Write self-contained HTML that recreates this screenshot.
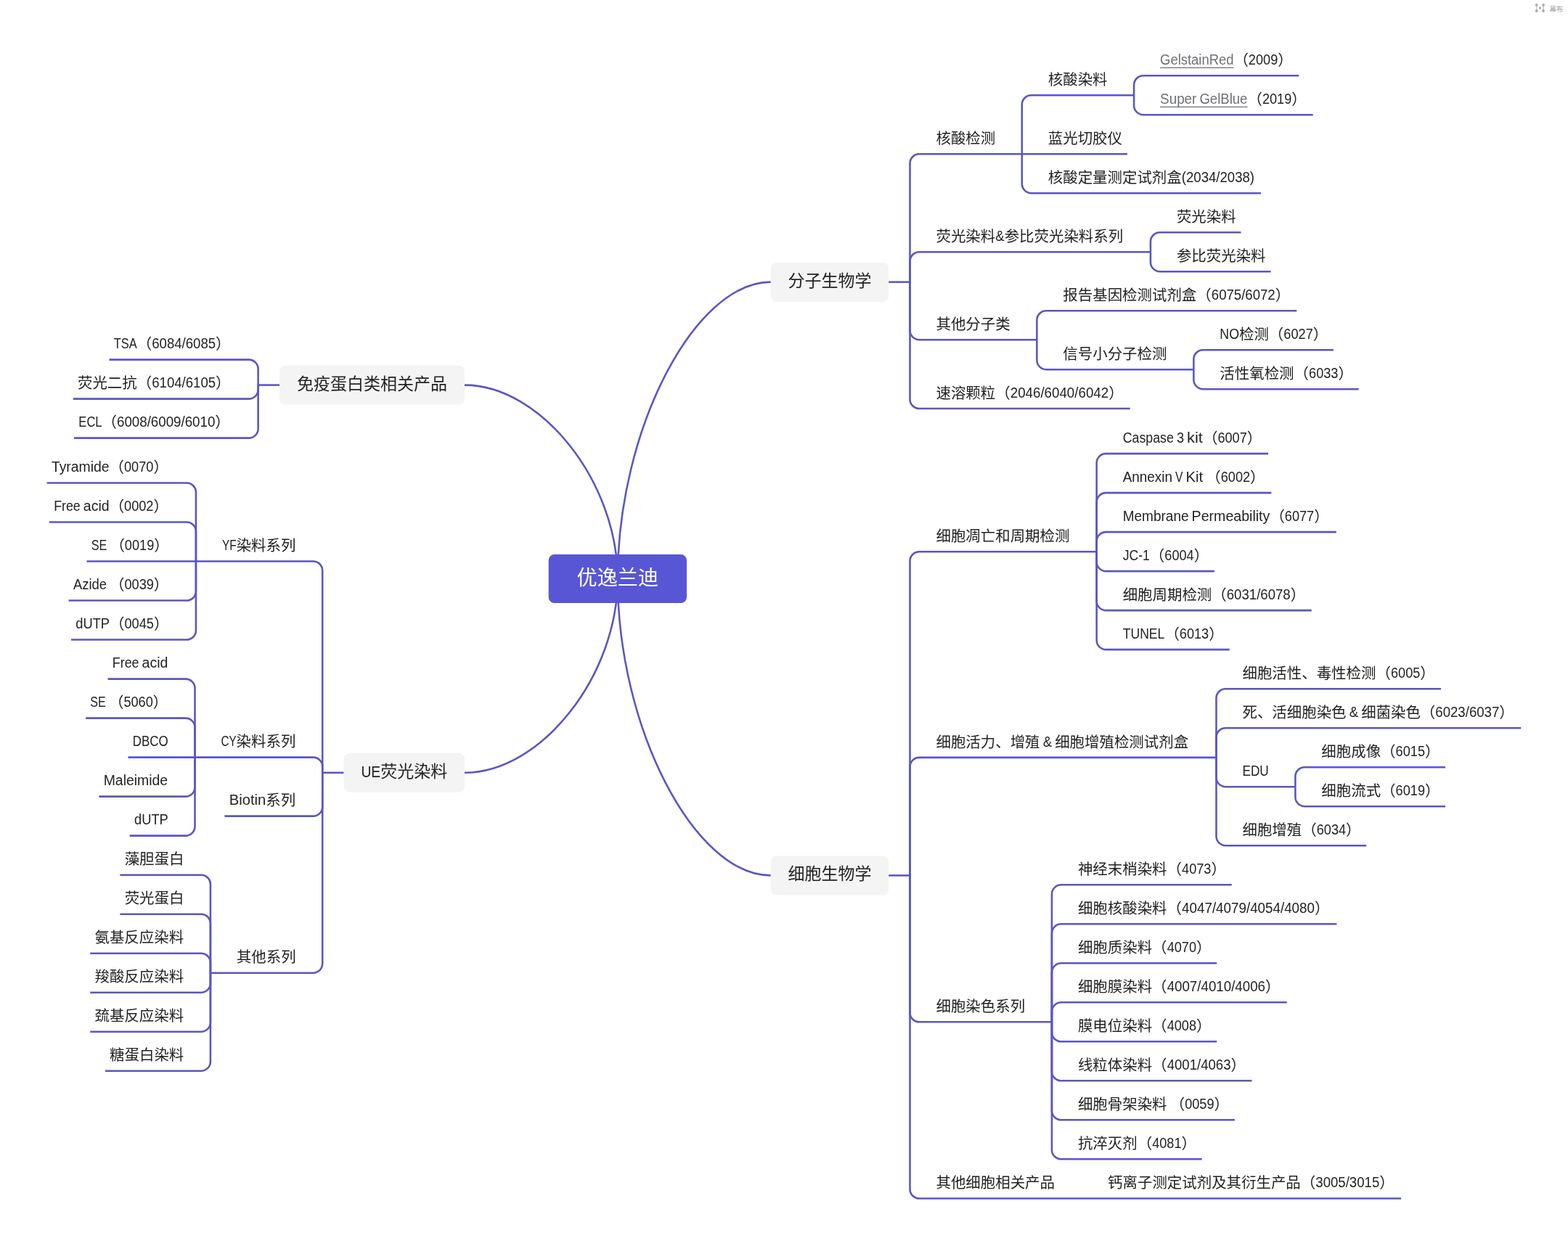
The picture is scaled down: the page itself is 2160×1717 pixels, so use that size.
<!DOCTYPE html>
<html lang="zh-CN">
<head>
<meta charset="utf-8">
<title>优逸兰迪</title>
<style>
html,body{margin:0;padding:0;background:#fff}
body{width:2160px;height:1717px;overflow:hidden}
svg{display:block;will-change:transform;font-family:"Liberation Sans","Noto Sans CJK SC",sans-serif}
text{white-space:pre}
.t{font-size:20.45px;fill:#222222}
.t1{font-size:23px;fill:#222222}
.t0{font-size:28.12px;fill:#fff}
.lk{fill:#6e7074}
.lu{stroke:#6e7074;stroke-width:1.3;fill:none}
.ln path{fill:none;stroke:#5957c2;stroke-width:2.57}
.b0{fill:#5856d5}
.b1{fill:#f4f4f5}
.wm{font-size:9.3px;fill:#999}
.wd{fill:#ababab}
.wn{fill:#d2d2d2}
</style>
</head>
<body>
<svg width="2160" height="1717" viewBox="0 0 2160 1717">
<g class="ln">
<path d="M850.85 797.6C850.85 931.2 745.42 1064.8 640 1064.8"/>
<path d="M850.85 797.6C850.85 664.1 745.38 530.6 639.9 530.6"/>
<path d="M850.85 797.6C850.85 1002 956.33 1206.4 1061.8 1206.4"/>
<path d="M850.85 797.6C850.85 593.12 956.33 388.65 1061.8 388.65"/>
<path d="M1224.11 388.65H1253.51"/>
<path d="M1253.51 388.65V225.06A12.86 12.86 0 0 1 1266.37 212.2H1407.8"/>
<path d="M1407.8 212.2V144.06A12.86 12.86 0 0 1 1420.66 131.2H1562.09"/>
<path d="M1562.09 131.2V117.06A12.86 12.86 0 0 1 1574.94 104.2H1789.39"/>
<path d="M1562.09 131.2V145.34A12.86 12.86 0 0 0 1574.94 158.2H1808.7"/>
<path d="M1407.8 212.2H1552.96"/>
<path d="M1407.8 212.2V253.34A12.86 12.86 0 0 0 1420.66 266.2H1736.94"/>
<path d="M1253.51 388.65V360.06A12.86 12.86 0 0 1 1266.37 347.2H1584.93"/>
<path d="M1584.93 347.2V333.06A12.86 12.86 0 0 1 1597.78 320.2H1709.51"/>
<path d="M1584.93 347.2V361.34A12.86 12.86 0 0 0 1597.78 374.2H1750.65"/>
<path d="M1253.51 388.65V455.34A12.86 12.86 0 0 0 1266.37 468.2H1428.37"/>
<path d="M1428.37 468.2V441.06A12.86 12.86 0 0 1 1441.23 428.2H1786.17"/>
<path d="M1428.37 468.2V496.34A12.86 12.86 0 0 0 1441.23 509.2H1644.37"/>
<path d="M1644.37 509.2V495.06A12.86 12.86 0 0 1 1657.23 482.2H1836.99"/>
<path d="M1644.37 509.2V523.34A12.86 12.86 0 0 0 1657.23 536.2H1871.66"/>
<path d="M1253.51 388.65V550.14A12.86 12.86 0 0 0 1266.37 563H1556.68"/>
<path d="M1224.11 1206.4H1253.51"/>
<path d="M1253.51 1206.4V773.06A12.86 12.86 0 0 1 1266.37 760.2H1510.66"/>
<path d="M1510.66 760.2V637.96A12.86 12.86 0 0 1 1523.51 625.1H1747.06"/>
<path d="M1510.66 760.2V691.96A12.86 12.86 0 0 1 1523.51 679.1H1751.44"/>
<path d="M1510.66 760.2V745.96A12.86 12.86 0 0 1 1523.51 733.1H1840.89"/>
<path d="M1510.66 760.2V774.24A12.86 12.86 0 0 0 1523.51 787.1H1672.86"/>
<path d="M1510.66 760.2V828.24A12.86 12.86 0 0 0 1523.51 841.1H1806.74"/>
<path d="M1510.66 760.2V882.24A12.86 12.86 0 0 0 1523.51 895.1H1693.71"/>
<path d="M1253.51 1206.4V1056.76A12.86 12.86 0 0 1 1266.37 1043.9H1675.48"/>
<path d="M1675.48 1043.9V962.06A12.86 12.86 0 0 1 1688.34 949.2H1985.06"/>
<path d="M1675.48 1043.9V1016.06A12.86 12.86 0 0 1 1688.34 1003.2H2095.25"/>
<path d="M1675.48 1043.9V1071.34A12.86 12.86 0 0 0 1688.34 1084.2H1784.37"/>
<path d="M1784.37 1084.2V1070.06A12.86 12.86 0 0 1 1797.23 1057.2H1991.09"/>
<path d="M1784.37 1084.2V1098.34A12.86 12.86 0 0 0 1797.23 1111.2H1991.09"/>
<path d="M1675.48 1043.9V1152.34A12.86 12.86 0 0 0 1688.34 1165.2H1882.2"/>
<path d="M1253.51 1206.4V1395.44A12.86 12.86 0 0 0 1266.37 1408.3H1448.94"/>
<path d="M1448.94 1408.3V1232.16A12.86 12.86 0 0 1 1461.8 1219.3H1696.8"/>
<path d="M1448.94 1408.3V1286.16A12.86 12.86 0 0 1 1461.8 1273.3H1841.48"/>
<path d="M1448.94 1408.3V1340.16A12.86 12.86 0 0 1 1461.8 1327.3H1676.23"/>
<path d="M1448.94 1408.3V1394.16A12.86 12.86 0 0 1 1461.8 1381.3H1772.68"/>
<path d="M1448.94 1408.3V1422.44A12.86 12.86 0 0 0 1461.8 1435.3H1676.23"/>
<path d="M1448.94 1408.3V1476.44A12.86 12.86 0 0 0 1461.8 1489.3H1724.45"/>
<path d="M1448.94 1408.3V1530.44A12.86 12.86 0 0 0 1461.8 1543.3H1700.94"/>
<path d="M1448.94 1408.3V1584.44A12.86 12.86 0 0 0 1461.8 1597.3H1655.66"/>
<path d="M1253.51 1206.4V1638.64A12.86 12.86 0 0 0 1266.37 1651.5H1490.09"/>
<path d="M1490.09 1651.5H1930.17"/>
<path d="M385.01 530.6H355.61"/>
<path d="M355.61 530.6V508.46A12.86 12.86 0 0 0 342.76 495.6H150.48"/>
<path d="M355.61 530.6V536.74A12.86 12.86 0 0 1 342.76 549.6H100.67"/>
<path d="M355.61 530.6V590.74A12.86 12.86 0 0 1 342.76 603.6H102.06"/>
<path d="M473.62 1064.8H444.22"/>
<path d="M444.22 1064.8V786.36A12.86 12.86 0 0 0 431.36 773.5H269.94"/>
<path d="M269.94 773.5V678.36A12.86 12.86 0 0 0 257.08 665.5H64.6"/>
<path d="M269.94 773.5V732.36A12.86 12.86 0 0 0 257.08 719.5H67.83"/>
<path d="M269.94 773.5H119.49"/>
<path d="M269.94 773.5V814.64A12.86 12.86 0 0 1 257.08 827.5H94.62"/>
<path d="M269.94 773.5V868.64A12.86 12.86 0 0 1 257.08 881.5H98"/>
<path d="M444.22 1064.8V1056.46A12.86 12.86 0 0 0 431.36 1043.6H268.5"/>
<path d="M268.5 1043.6V948.46A12.86 12.86 0 0 0 255.64 935.6H148.52"/>
<path d="M268.5 1043.6V1002.46A12.86 12.86 0 0 0 255.64 989.6H118.05"/>
<path d="M268.5 1043.6H176.48"/>
<path d="M268.5 1043.6V1084.74A12.86 12.86 0 0 1 255.64 1097.6H136.41"/>
<path d="M268.5 1043.6V1138.74A12.86 12.86 0 0 1 255.64 1151.6H178.69"/>
<path d="M444.22 1064.8V1111.74A12.86 12.86 0 0 1 431.36 1124.6H309.43"/>
<path d="M444.22 1064.8V1327.84A12.86 12.86 0 0 1 431.36 1340.7H289.93"/>
<path d="M289.93 1340.7V1218.56A12.86 12.86 0 0 0 277.08 1205.7H165.35"/>
<path d="M289.93 1340.7V1272.56A12.86 12.86 0 0 0 277.08 1259.7H165.35"/>
<path d="M289.93 1340.7V1326.56A12.86 12.86 0 0 0 277.08 1313.7H124.2"/>
<path d="M289.93 1340.7V1354.84A12.86 12.86 0 0 1 277.08 1367.7H124.2"/>
<path d="M289.93 1340.7V1408.84A12.86 12.86 0 0 1 277.08 1421.7H124.2"/>
<path d="M289.93 1340.7V1462.84A12.86 12.86 0 0 1 277.08 1475.7H144.78"/>
</g>
<rect class="b0" x="755.7" y="764.1" width="190.3" height="67" rx="8"/>
<rect class="b1" x="1061.8" y="361.65" width="162.31" height="54" rx="8"/>
<rect class="b1" x="1061.8" y="1179.4" width="162.31" height="54" rx="8"/>
<rect class="b1" x="385.01" y="503.6" width="254.89" height="54" rx="8"/>
<rect class="b1" x="473.62" y="1037.8" width="166.38" height="54" rx="8"/>
<path class="lu" d="M1598.09 93.45H1699.42"/>
<path class="lu" d="M1598.09 147.45H1718.44"/>
<text class="t1"><tspan x="1085.45" y="394.65">分子生物学</tspan></text>
<text class="t"><tspan x="1289.51" y="197.95">核酸检测</tspan></text>
<text class="t"><tspan x="1443.8" y="116.95">核酸染料</tspan></text>
<text class="t"><tspan class="lk" x="1598.09" y="88.8" font-size="19.94" textLength="101.33" lengthAdjust="spacingAndGlyphs">GelstainRed</tspan><tspan x="1699.42" y="89.95">（</tspan><tspan x="1719.87" y="88.8" font-size="19.94" textLength="40.37" lengthAdjust="spacingAndGlyphs">2009</tspan><tspan x="1760.24" y="89.95">）</tspan></text>
<text class="t"><tspan class="lk" x="1598.09" y="142.8" font-size="19.94" textLength="50.28" lengthAdjust="spacingAndGlyphs">Super</tspan><tspan x="1648.37" y="142.8" font-size="19.94"> </tspan><tspan class="lk" x="1652.44" y="142.8" font-size="19.94" textLength="66" lengthAdjust="spacingAndGlyphs">GelBlue</tspan><tspan x="1718.44" y="143.95">（</tspan><tspan x="1738.89" y="142.8" font-size="19.94" textLength="40.37" lengthAdjust="spacingAndGlyphs">2019</tspan><tspan x="1779.26" y="143.95">）</tspan></text>
<text class="t"><tspan x="1443.8" y="197.95">蓝光切胶仪</tspan></text>
<text class="t"><tspan x="1443.8" y="251.95">核酸定量测定试剂盒</tspan><tspan x="1627.83" y="250.8" font-size="19.94" textLength="100.17" lengthAdjust="spacingAndGlyphs">(2034/2038)</tspan></text>
<text class="t"><tspan x="1289.51" y="332.95">荧光染料</tspan><tspan x="1371.31" y="331.8" font-size="19.94" textLength="12.37" lengthAdjust="spacingAndGlyphs">&amp;</tspan><tspan x="1383.67" y="332.95">参比荧光染料系列</tspan></text>
<text class="t"><tspan x="1620.93" y="305.95">荧光染料</tspan></text>
<text class="t"><tspan x="1620.93" y="359.95">参比荧光染料</tspan></text>
<text class="t"><tspan x="1289.51" y="453.95">其他分子类</tspan></text>
<text class="t"><tspan x="1464.37" y="413.95">报告基因检测试剂盒（</tspan><tspan x="1668.85" y="412.8" font-size="19.94" textLength="87.87" lengthAdjust="spacingAndGlyphs">6075/6072</tspan><tspan x="1756.73" y="413.95">）</tspan></text>
<text class="t"><tspan x="1464.37" y="494.95">信号小分子检测</tspan></text>
<text class="t"><tspan x="1680.37" y="466.8" font-size="19.94" textLength="26.64" lengthAdjust="spacingAndGlyphs">NO</tspan><tspan x="1707.01" y="467.95">检测（</tspan><tspan x="1768.36" y="466.8" font-size="19.94" textLength="40.37" lengthAdjust="spacingAndGlyphs">6027</tspan><tspan x="1808.73" y="467.95">）</tspan></text>
<text class="t"><tspan x="1680.37" y="521.95">活性氧检测（</tspan><tspan x="1803.06" y="520.8" font-size="19.94" textLength="40.37" lengthAdjust="spacingAndGlyphs">6033</tspan><tspan x="1843.43" y="521.95">）</tspan></text>
<text class="t"><tspan x="1289.51" y="548.75">速溶颗粒（</tspan><tspan x="1391.75" y="547.6" font-size="19.94" textLength="135.38" lengthAdjust="spacingAndGlyphs">2046/6040/6042</tspan><tspan x="1527.13" y="548.75">）</tspan></text>
<text class="t1"><tspan x="1085.45" y="1212.4">细胞生物学</tspan></text>
<text class="t"><tspan x="1289.51" y="745.95">细胞凋亡和周期检测</tspan></text>
<text class="t"><tspan x="1546.66" y="609.7" font-size="19.94" textLength="70.16" lengthAdjust="spacingAndGlyphs">Caspase</tspan><tspan x="1616.82" y="609.7" font-size="19.94"> </tspan><tspan x="1620.89" y="609.7" font-size="19.94" textLength="10.09" lengthAdjust="spacingAndGlyphs">3</tspan><tspan x="1630.98" y="609.7" font-size="19.94"> </tspan><tspan x="1635.06" y="609.7" font-size="19.94" textLength="21.9" lengthAdjust="spacingAndGlyphs">kit</tspan><tspan x="1656.95" y="610.85">（</tspan><tspan x="1677.4" y="609.7" font-size="19.94" textLength="40.37" lengthAdjust="spacingAndGlyphs">6007</tspan><tspan x="1717.77" y="610.85">）</tspan></text>
<text class="t"><tspan x="1546.66" y="663.7" font-size="19.94" textLength="68.32" lengthAdjust="spacingAndGlyphs">Annexin</tspan><tspan x="1614.98" y="663.7" font-size="19.94"> </tspan><tspan x="1619.05" y="663.7" font-size="19.94" textLength="10.46" lengthAdjust="spacingAndGlyphs">V</tspan><tspan x="1629.51" y="663.7" font-size="19.94"> </tspan><tspan x="1633.59" y="663.7" font-size="19.94" textLength="23.61" lengthAdjust="spacingAndGlyphs">Kit</tspan><tspan x="1657.19" y="663.7" font-size="19.94"> </tspan><tspan x="1661.26" y="664.85">（</tspan><tspan x="1681.71" y="663.7" font-size="19.94" textLength="40.37" lengthAdjust="spacingAndGlyphs">6002</tspan><tspan x="1722.09" y="664.85">）</tspan></text>
<text class="t"><tspan x="1546.66" y="717.7" font-size="19.94" textLength="90.89" lengthAdjust="spacingAndGlyphs">Membrane</tspan><tspan x="1637.55" y="717.7" font-size="19.94"> </tspan><tspan x="1641.62" y="717.7" font-size="19.94" textLength="107.75" lengthAdjust="spacingAndGlyphs">Permeability</tspan><tspan x="1749.38" y="718.85">（</tspan><tspan x="1769.82" y="717.7" font-size="19.94" textLength="40.37" lengthAdjust="spacingAndGlyphs">6077</tspan><tspan x="1810.2" y="718.85">）</tspan></text>
<text class="t"><tspan x="1546.66" y="771.7" font-size="19.94" textLength="37.21" lengthAdjust="spacingAndGlyphs">JC-1</tspan><tspan x="1583.87" y="772.85">（</tspan><tspan x="1604.31" y="771.7" font-size="19.94" textLength="40.37" lengthAdjust="spacingAndGlyphs">6004</tspan><tspan x="1644.69" y="772.85">）</tspan></text>
<text class="t"><tspan x="1546.66" y="826.85">细胞周期检测（</tspan><tspan x="1689.79" y="825.7" font-size="19.94" textLength="87.87" lengthAdjust="spacingAndGlyphs">6031/6078</tspan><tspan x="1777.67" y="826.85">）</tspan></text>
<text class="t"><tspan x="1546.66" y="879.7" font-size="19.94" textLength="57.74" lengthAdjust="spacingAndGlyphs">TUNEL</tspan><tspan x="1604.4" y="880.85">（</tspan><tspan x="1624.85" y="879.7" font-size="19.94" textLength="40.37" lengthAdjust="spacingAndGlyphs">6013</tspan><tspan x="1665.22" y="880.85">）</tspan></text>
<text class="t"><tspan x="1289.51" y="1029.65">细胞活力、增殖</tspan><tspan x="1432.65" y="1028.5" font-size="19.94"> </tspan><tspan x="1436.72" y="1028.5" font-size="19.94" textLength="12.37" lengthAdjust="spacingAndGlyphs">&amp;</tspan><tspan x="1449.09" y="1028.5" font-size="19.94"> </tspan><tspan x="1453.16" y="1029.65">细胞增殖检测试剂盒</tspan></text>
<text class="t"><tspan x="1711.48" y="934.95">细胞活性、毒性检测（</tspan><tspan x="1915.96" y="933.8" font-size="19.94" textLength="40.37" lengthAdjust="spacingAndGlyphs">6005</tspan><tspan x="1956.34" y="934.95">）</tspan></text>
<text class="t"><tspan x="1711.48" y="988.95">死、活细胞染色</tspan><tspan x="1854.62" y="987.8" font-size="19.94"> </tspan><tspan x="1858.69" y="987.8" font-size="19.94" textLength="12.37" lengthAdjust="spacingAndGlyphs">&amp;</tspan><tspan x="1871.06" y="987.8" font-size="19.94"> </tspan><tspan x="1875.13" y="988.95">细菌染色（</tspan><tspan x="1977.37" y="987.8" font-size="19.94" textLength="87.87" lengthAdjust="spacingAndGlyphs">6023/6037</tspan><tspan x="2065.25" y="988.95">）</tspan></text>
<text class="t"><tspan x="1711.48" y="1068.8" font-size="19.94" textLength="36.34" lengthAdjust="spacingAndGlyphs">EDU</tspan></text>
<text class="t"><tspan x="1820.37" y="1042.95">细胞成像（</tspan><tspan x="1922.61" y="1041.8" font-size="19.94" textLength="40.37" lengthAdjust="spacingAndGlyphs">6015</tspan><tspan x="1962.98" y="1042.95">）</tspan></text>
<text class="t"><tspan x="1820.37" y="1096.95">细胞流式（</tspan><tspan x="1922.61" y="1095.8" font-size="19.94" textLength="40.37" lengthAdjust="spacingAndGlyphs">6019</tspan><tspan x="1962.98" y="1096.95">）</tspan></text>
<text class="t"><tspan x="1711.48" y="1150.95">细胞增殖（</tspan><tspan x="1813.72" y="1149.8" font-size="19.94" textLength="40.37" lengthAdjust="spacingAndGlyphs">6034</tspan><tspan x="1854.1" y="1150.95">）</tspan></text>
<text class="t"><tspan x="1289.51" y="1394.05">细胞染色系列</tspan></text>
<text class="t"><tspan x="1484.94" y="1205.05">神经末梢染料（</tspan><tspan x="1628.08" y="1203.9" font-size="19.94" textLength="40.37" lengthAdjust="spacingAndGlyphs">4073</tspan><tspan x="1668.45" y="1205.05">）</tspan></text>
<text class="t"><tspan x="1484.94" y="1259.05">细胞核酸染料（</tspan><tspan x="1628.08" y="1257.9" font-size="19.94" textLength="182.88" lengthAdjust="spacingAndGlyphs">4047/4079/4054/4080</tspan><tspan x="1810.96" y="1259.05">）</tspan></text>
<text class="t"><tspan x="1484.94" y="1313.05">细胞质染料（</tspan><tspan x="1607.63" y="1311.9" font-size="19.94" textLength="40.37" lengthAdjust="spacingAndGlyphs">4070</tspan><tspan x="1648" y="1313.05">）</tspan></text>
<text class="t"><tspan x="1484.94" y="1367.05">细胞膜染料（</tspan><tspan x="1607.63" y="1365.9" font-size="19.94" textLength="135.38" lengthAdjust="spacingAndGlyphs">4007/4010/4006</tspan><tspan x="1743.01" y="1367.05">）</tspan></text>
<text class="t"><tspan x="1484.94" y="1421.05">膜电位染料（</tspan><tspan x="1607.63" y="1419.9" font-size="19.94" textLength="40.37" lengthAdjust="spacingAndGlyphs">4008</tspan><tspan x="1648" y="1421.05">）</tspan></text>
<text class="t"><tspan x="1484.94" y="1475.05">线粒体染料（</tspan><tspan x="1607.63" y="1473.9" font-size="19.94" textLength="87.87" lengthAdjust="spacingAndGlyphs">4001/4063</tspan><tspan x="1695.5" y="1475.05">）</tspan></text>
<text class="t"><tspan x="1484.94" y="1529.05">细胞骨架染料</tspan><tspan x="1607.63" y="1527.9" font-size="19.94"> </tspan><tspan x="1611.7" y="1529.05">（</tspan><tspan x="1632.15" y="1527.9" font-size="19.94" textLength="40.37" lengthAdjust="spacingAndGlyphs">0059</tspan><tspan x="1672.52" y="1529.05">）</tspan></text>
<text class="t"><tspan x="1484.94" y="1583.05">抗淬灭剂（</tspan><tspan x="1587.18" y="1581.9" font-size="19.94" textLength="40.37" lengthAdjust="spacingAndGlyphs">4081</tspan><tspan x="1627.56" y="1583.05">）</tspan></text>
<text class="t"><tspan x="1289.51" y="1637.25">其他细胞相关产品</tspan></text>
<text class="t"><tspan x="1526.09" y="1637.25">钙离子测定试剂及其衍生产品（</tspan><tspan x="1812.36" y="1636.1" font-size="19.94" textLength="87.87" lengthAdjust="spacingAndGlyphs">3005/3015</tspan><tspan x="1900.23" y="1637.25">）</tspan></text>
<text class="t1"><tspan x="408.94" y="536.6">免疫蛋白类相关产品</tspan></text>
<text class="t"><tspan x="156.78" y="480.2" font-size="19.94" textLength="31.99" lengthAdjust="spacingAndGlyphs">TSA</tspan><tspan x="188.77" y="481.35">（</tspan><tspan x="209.22" y="480.2" font-size="19.94" textLength="87.87" lengthAdjust="spacingAndGlyphs">6084/6085</tspan><tspan x="297.09" y="481.35">）</tspan></text>
<text class="t"><tspan x="106.97" y="535.35">荧光二抗（</tspan><tspan x="209.21" y="534.2" font-size="19.94" textLength="87.87" lengthAdjust="spacingAndGlyphs">6104/6105</tspan><tspan x="297.09" y="535.35">）</tspan></text>
<text class="t"><tspan x="108.36" y="588.2" font-size="19.94" textLength="32.19" lengthAdjust="spacingAndGlyphs">ECL</tspan><tspan x="140.54" y="589.35">（</tspan><tspan x="160.99" y="588.2" font-size="19.94" textLength="135.38" lengthAdjust="spacingAndGlyphs">6008/6009/6010</tspan><tspan x="296.37" y="589.35">）</tspan></text>
<text class="t1"><tspan x="497.4" y="1071.4" font-size="22.43" textLength="26.8" lengthAdjust="spacingAndGlyphs">UE</tspan><tspan x="524.2" y="1070.8">荧光染料</tspan></text>
<text class="t"><tspan x="305.94" y="758.1" font-size="19.94" textLength="19.7" lengthAdjust="spacingAndGlyphs">YF</tspan><tspan x="325.63" y="759.25">染料系列</tspan></text>
<text class="t"><tspan x="70.9" y="650.1" font-size="19.94" textLength="79.69" lengthAdjust="spacingAndGlyphs">Tyramide</tspan><tspan x="150.59" y="651.25">（</tspan><tspan x="171.04" y="650.1" font-size="19.94" textLength="40.37" lengthAdjust="spacingAndGlyphs">0070</tspan><tspan x="211.41" y="651.25">）</tspan></text>
<text class="t"><tspan x="74.13" y="704.1" font-size="19.94" textLength="36.64" lengthAdjust="spacingAndGlyphs">Free</tspan><tspan x="110.78" y="704.1" font-size="19.94"> </tspan><tspan x="114.85" y="704.1" font-size="19.94" textLength="35.79" lengthAdjust="spacingAndGlyphs">acid</tspan><tspan x="150.64" y="705.25">（</tspan><tspan x="171.09" y="704.1" font-size="19.94" textLength="40.37" lengthAdjust="spacingAndGlyphs">0002</tspan><tspan x="211.46" y="705.25">）</tspan></text>
<text class="t"><tspan x="125.79" y="758.1" font-size="19.94" textLength="21.55" lengthAdjust="spacingAndGlyphs">SE</tspan><tspan x="147.34" y="758.1" font-size="19.94"> </tspan><tspan x="151.42" y="759.25">（</tspan><tspan x="171.87" y="758.1" font-size="19.94" textLength="40.37" lengthAdjust="spacingAndGlyphs">0019</tspan><tspan x="212.24" y="759.25">）</tspan></text>
<text class="t"><tspan x="100.92" y="812.1" font-size="19.94" textLength="46.05" lengthAdjust="spacingAndGlyphs">Azide</tspan><tspan x="146.97" y="812.1" font-size="19.94"> </tspan><tspan x="151.04" y="813.25">（</tspan><tspan x="171.49" y="812.1" font-size="19.94" textLength="40.37" lengthAdjust="spacingAndGlyphs">0039</tspan><tspan x="211.87" y="813.25">）</tspan></text>
<text class="t"><tspan x="104.3" y="866.1" font-size="19.94" textLength="46.79" lengthAdjust="spacingAndGlyphs">dUTP</tspan><tspan x="151.1" y="867.25">（</tspan><tspan x="171.54" y="866.1" font-size="19.94" textLength="40.37" lengthAdjust="spacingAndGlyphs">0045</tspan><tspan x="211.92" y="867.25">）</tspan></text>
<text class="t"><tspan x="304.5" y="1028.2" font-size="19.94" textLength="21.11" lengthAdjust="spacingAndGlyphs">CY</tspan><tspan x="325.61" y="1029.35">染料系列</tspan></text>
<text class="t"><tspan x="154.82" y="920.2" font-size="19.94" textLength="36.64" lengthAdjust="spacingAndGlyphs">Free</tspan><tspan x="191.47" y="920.2" font-size="19.94"> </tspan><tspan x="195.54" y="920.2" font-size="19.94" textLength="35.79" lengthAdjust="spacingAndGlyphs">acid</tspan></text>
<text class="t"><tspan x="124.35" y="974.2" font-size="19.94" textLength="21.55" lengthAdjust="spacingAndGlyphs">SE</tspan><tspan x="145.9" y="974.2" font-size="19.94"> </tspan><tspan x="149.98" y="975.35">（</tspan><tspan x="170.43" y="974.2" font-size="19.94" textLength="40.37" lengthAdjust="spacingAndGlyphs">5060</tspan><tspan x="210.8" y="975.35">）</tspan></text>
<text class="t"><tspan x="182.78" y="1028.2" font-size="19.94" textLength="48.97" lengthAdjust="spacingAndGlyphs">DBCO</tspan></text>
<text class="t"><tspan x="142.71" y="1082.2" font-size="19.94" textLength="88.44" lengthAdjust="spacingAndGlyphs">Maleimide</tspan></text>
<text class="t"><tspan x="184.99" y="1136.2" font-size="19.94" textLength="46.79" lengthAdjust="spacingAndGlyphs">dUTP</tspan></text>
<text class="t"><tspan x="315.73" y="1109.2" font-size="19.94" textLength="50.57" lengthAdjust="spacingAndGlyphs">Biotin</tspan><tspan x="366.31" y="1110.35">系列</tspan></text>
<text class="t"><tspan x="325.93" y="1326.45">其他系列</tspan></text>
<text class="t"><tspan x="171.65" y="1191.45">藻胆蛋白</tspan></text>
<text class="t"><tspan x="171.65" y="1245.45">荧光蛋白</tspan></text>
<text class="t"><tspan x="130.5" y="1299.45">氨基反应染料</tspan></text>
<text class="t"><tspan x="130.5" y="1353.45">羧酸反应染料</tspan></text>
<text class="t"><tspan x="130.5" y="1407.45">巯基反应染料</tspan></text>
<text class="t"><tspan x="151.08" y="1461.45">糖蛋白染料</tspan></text>
<text class="t0"><tspan x="794.62" y="805.6">优逸兰迪</tspan></text>
<g>
<path class="wn" d="M2115.3 6.9Q2116.4 10.95 2115.3 15H2118.1Q2117 10.95 2118.1 6.9ZM2124.6 6.9Q2125.7 10.95 2124.6 15H2127.4Q2126.3 10.95 2127.4 6.9Z"/>
<circle class="wd" cx="2116.7" cy="6.9" r="1.9"/><circle class="wd" cx="2116.7" cy="15" r="1.9"/>
<circle class="wd" cx="2126" cy="6.9" r="1.9"/><circle class="wd" cx="2126" cy="15" r="1.9"/>
<circle class="wd" cx="2121.4" cy="10.95" r="1.75"/>
<text class="wm" x="2134.7" y="15.7">幕布</text>
</g>
</svg>
</body>
</html>
